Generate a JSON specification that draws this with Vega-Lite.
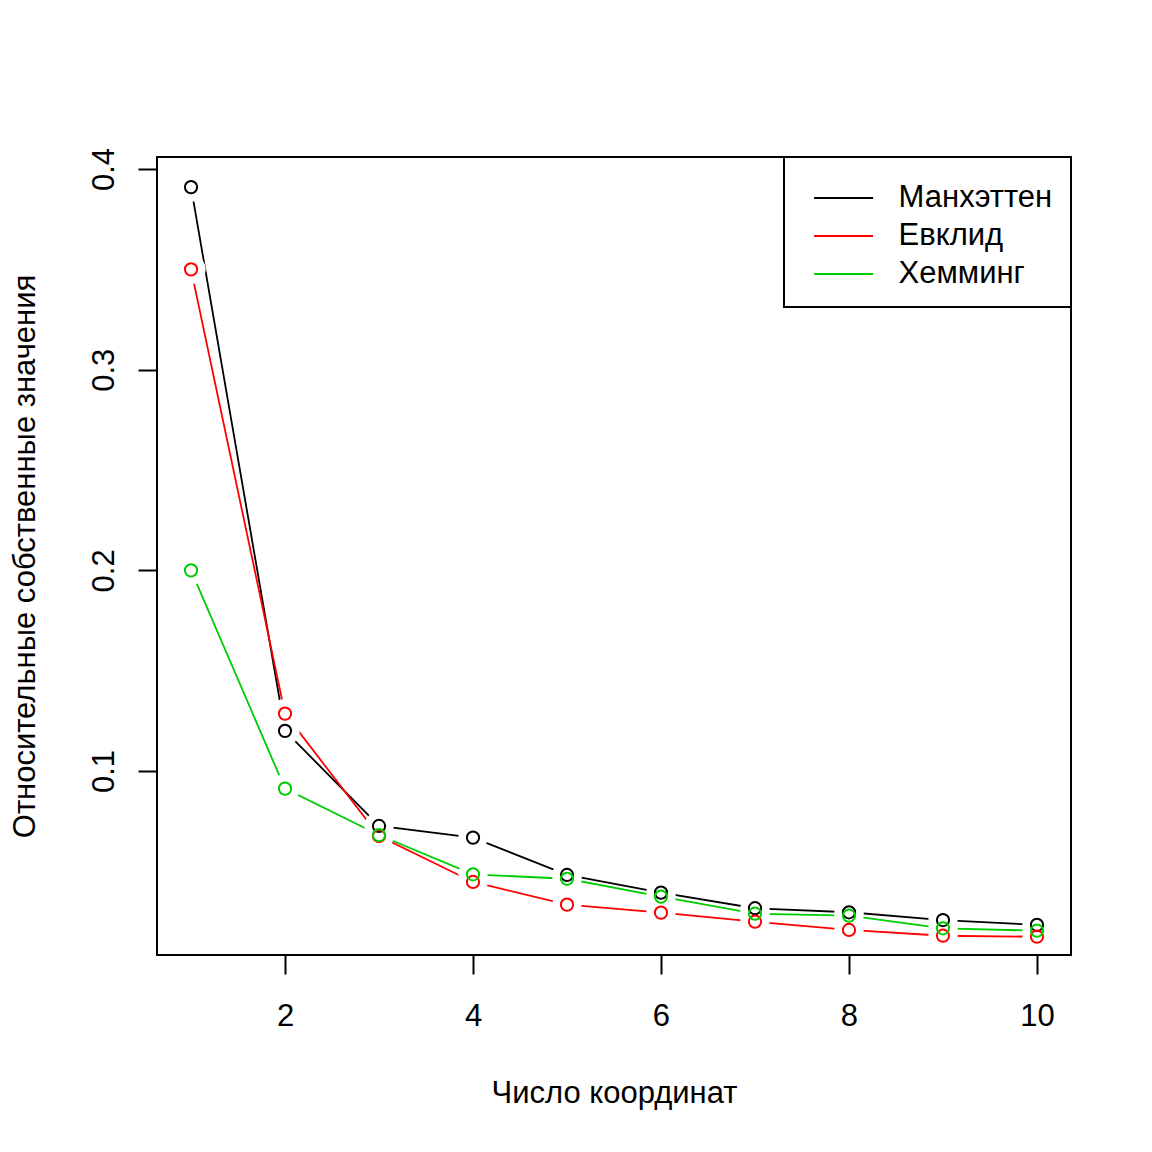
{
  "$schema": "https://vega.github.io/schema/vega-lite/v6.json",
  "width": 914,
  "height": 798,
  "autosize": {"type": "none"},
  "padding": {"left": 157, "top": 157, "right": 81, "bottom": 197},
  "background": "white",
  "config": {
    "view": {"stroke": "black", "strokeWidth": 2},
    "font": "Liberation Sans"
  },
  "data": {
    "values": [
      {"n": 1, "v": 0.391, "metric": "Манхэттен"},
      {"n": 2, "v": 0.120, "metric": "Манхэттен"},
      {"n": 3, "v": 0.0726, "metric": "Манхэттен"},
      {"n": 4, "v": 0.0668, "metric": "Манхэттен"},
      {"n": 5, "v": 0.0482, "metric": "Манхэттен"},
      {"n": 6, "v": 0.0394, "metric": "Манхэттен"},
      {"n": 7, "v": 0.0316, "metric": "Манхэттен"},
      {"n": 8, "v": 0.0296, "metric": "Манхэттен"},
      {"n": 9, "v": 0.0257, "metric": "Манхэттен"},
      {"n": 10, "v": 0.0233, "metric": "Манхэттен"},
      {"n": 1, "v": 0.350, "metric": "Евклид"},
      {"n": 2, "v": 0.1286, "metric": "Евклид"},
      {"n": 3, "v": 0.0676, "metric": "Евклид"},
      {"n": 4, "v": 0.0447, "metric": "Евклид"},
      {"n": 5, "v": 0.0334, "metric": "Евклид"},
      {"n": 6, "v": 0.0294, "metric": "Евклид"},
      {"n": 7, "v": 0.0249, "metric": "Евклид"},
      {"n": 8, "v": 0.0208, "metric": "Евклид"},
      {"n": 9, "v": 0.0179, "metric": "Евклид"},
      {"n": 10, "v": 0.0174, "metric": "Евклид"},
      {"n": 1, "v": 0.200, "metric": "Хемминг"},
      {"n": 2, "v": 0.0912, "metric": "Хемминг"},
      {"n": 3, "v": 0.0681, "metric": "Хемминг"},
      {"n": 4, "v": 0.0485, "metric": "Хемминг"},
      {"n": 5, "v": 0.0463, "metric": "Хемминг"},
      {"n": 6, "v": 0.0374, "metric": "Хемминг"},
      {"n": 7, "v": 0.0289, "metric": "Хемминг"},
      {"n": 8, "v": 0.0279, "metric": "Хемминг"},
      {"n": 9, "v": 0.0216, "metric": "Хемминг"},
      {"n": 10, "v": 0.0204, "metric": "Хемминг"}
    ]
  },
  "encoding": {
    "x": {
      "field": "n", "type": "quantitative",
      "scale": {"domain": [0.638, 10.362], "nice": false, "zero": false},
      "axis": {
        "title": "Число координат",
        "values": [2, 4, 6, 8, 10],
        "domain": false, "grid": false,
        "tickSize": 19, "tickWidth": 2, "tickColor": "black",
        "labelFontSize": 31, "labelColor": "black", "labelPadding": 51,
        "labelBaseline": "alphabetic",
        "titleFontSize": 31, "titleFontWeight": "normal", "titleColor": "black",
        "titleY": 147, "titleBaseline": "alphabetic"
      }
    },
    "y": {
      "field": "v", "type": "quantitative",
      "scale": {"domain": [0.0083, 0.406], "nice": false, "zero": false},
      "axis": {
        "title": "Относительные собственные значения",
        "values": [0.1, 0.2, 0.3, 0.4],
        "format": ".1f",
        "domain": false, "grid": false,
        "tickSize": 19, "tickWidth": 2, "tickColor": "black",
        "labelFontSize": 31, "labelColor": "black", "labelPadding": 25,
        "labelAngle": -90, "labelAlign": "center", "labelBaseline": "alphabetic",
        "titleFontSize": 31, "titleFontWeight": "normal", "titleColor": "black",
        "titleAngle": -90, "titleX": -123, "titleBaseline": "alphabetic"
      }
    }
  },
  "layer": [
    {
      "mark": {"type": "line", "strokeWidth": 1.8},
      "encoding": {
        "color": {
          "field": "metric", "type": "nominal", "sort": null,
          "scale": {"domain": ["Манхэттен", "Евклид", "Хемминг"], "range": ["black", "#FF0000", "#00CD00"]},
          "legend": {
            "title": null,
            "orient": "none", "legendX": 627, "legendY": 0,
            "strokeColor": "black", "fillColor": "white",
            "padding": 18,
            "symbolType": "M-1.347,0H1.347", "symbolSize": 1918, "symbolStrokeWidth": 2,
            "symbolOffset": 18.6,
            "labelFontSize": 31, "labelColor": "black", "labelOffset": 32,
            "rowPadding": -2.5,
            "encode": {"legend": {"update": {"strokeWidth": {"value": 2}}}}
          }
        }
      }
    },
    {
      "mark": {"type": "circle", "color": "white", "size": 855, "opacity": 1}
    },
    {
      "mark": {"type": "point", "shape": "circle", "filled": false, "size": 150, "strokeWidth": 2, "opacity": 1},
      "encoding": {
        "stroke": {
          "field": "metric", "type": "nominal",
          "scale": {"domain": ["Манхэттен", "Евклид", "Хемминг"], "range": ["black", "#FF0000", "#00CD00"]},
          "legend": null
        }
      }
    }
  ]
}
